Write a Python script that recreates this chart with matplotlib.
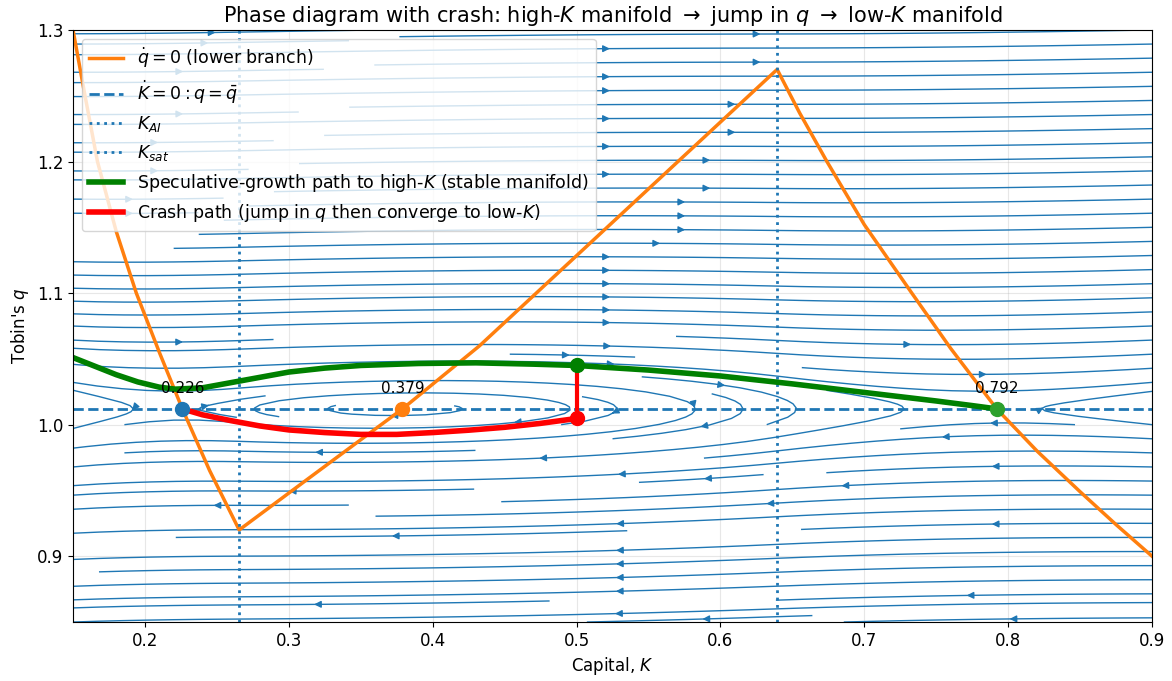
import numpy as np
import matplotlib
matplotlib.use("Agg")
import matplotlib.pyplot as plt

# q-dot = 0 curve (lower branch)
null_K = [0.15, 0.158, 0.167, 0.18, 0.194, 0.21, 0.226, 0.245, 0.2655,
          0.332, 0.379, 0.4326, 0.6394,
          0.655, 0.674, 0.70, 0.733, 0.76, 0.792, 0.82, 0.85, 0.875, 0.9]
null_q = [1.30, 1.252, 1.20, 1.147, 1.10, 1.055, 1.012, 0.965, 0.92,
          0.974, 1.012, 1.060, 1.27,
          1.237, 1.20, 1.152, 1.10, 1.058, 1.012, 0.980, 0.949, 0.924, 0.90]

q_bar = 1.012
K_AI = 0.2655
K_sat = 0.6394

eq_K = [0.226, 0.379, 0.792]
eq_colors = ["C0", "C1", "C2"]

# speculative growth path (stable manifold to high-K)
green_K = [0.15, 0.165, 0.18, 0.195, 0.21, 0.221, 0.24, 0.26, 0.28, 0.30, 0.325, 0.35, 0.39, 0.43,
           0.47, 0.50, 0.55, 0.60, 0.65, 0.70, 0.75, 0.775, 0.792]
green_q = [1.051, 1.0445, 1.038, 1.0325, 1.0285, 1.027, 1.028, 1.032, 1.036, 1.040, 1.043, 1.045, 1.0465,
           1.047, 1.046, 1.045, 1.0415, 1.037, 1.031, 1.0245, 1.018, 1.0145, 1.012]

# crash path (after jump, converge to low-K)
red_K = [0.226, 0.24, 0.26, 0.28, 0.30, 0.325, 0.35, 0.375, 0.40, 0.425, 0.45, 0.475, 0.50]
red_q = [1.012, 1.0075, 1.003, 0.999, 0.996, 0.994, 0.9926, 0.9926, 0.994, 0.9958, 0.998, 1.001, 1.0047]

K_jump = 0.5
q_before = 1.045
q_after = 1.0047

# vector field built from the nullclines
a, c = 1.0, 0.014
Kg = np.linspace(0.15, 0.9, 300)
qg = np.linspace(0.85, 1.3, 300)
KK, QQ = np.meshgrid(Kg, qg)
U = a * (QQ - q_bar)
V = c * (QQ - np.interp(KK, null_K, null_q))

fig, ax = plt.subplots(figsize=(11.72, 6.81), dpi=100)
fig.subplots_adjust(left=0.0623, right=0.983, top=0.956, bottom=0.0866)

ax.streamplot(KK, QQ, U, V, density=1.45, linewidth=1, arrowsize=1, color="C0")

ax.plot(null_K, null_q, color="C1", lw=2.5, label=r"$\dot{q}=0$ (lower branch)")
ax.axhline(q_bar, color="C0", ls="--", lw=2, label=r"$\dot{K}=0: q=\bar{q}$")
ax.axvline(K_AI, color="C0", ls=":", lw=2, label=r"$K_{AI}$")
ax.axvline(K_sat, color="C0", ls=":", lw=2, label=r"$K_{sat}$")

ax.plot(green_K, green_q, color="green", lw=4,
        label=r"Speculative-growth path to high-$K$ (stable manifold)")
ax.plot(red_K, red_q, color="red", lw=4,
        label=r"Crash path (jump in $q$ then converge to low-$K$)")
ax.plot([K_jump, K_jump], [q_after, q_before], color="red", lw=3)
ax.plot(K_jump, q_before, "o", color="green", ms=10)
ax.plot(K_jump, q_after, "o", color="red", ms=10)

for k, col in zip(eq_K, eq_colors):
    ax.plot(k, q_bar, "o", color=col, ms=10, zorder=5)
    ax.annotate(f"{k:.3f}", (k, q_bar), textcoords="offset points", xytext=(0, 9),
                ha="center", va="bottom", fontsize=11)

ax.set_xlim(0.15, 0.9)
ax.set_ylim(0.85, 1.3)
ax.set_xticks([0.2, 0.3, 0.4, 0.5, 0.6, 0.7, 0.8, 0.9])
ax.set_yticks([0.9, 1.0, 1.1, 1.2, 1.3])
ax.tick_params(labelsize=12)
ax.grid(alpha=0.3)
ax.set_xlabel(r"Capital, $K$", fontsize=12)
ax.set_ylabel(r"Tobin's $q$", fontsize=12)
ax.set_title(r"Phase diagram with crash: high-$K$ manifold $\rightarrow$ jump in $q$ $\rightarrow$ low-$K$ manifold",
             fontsize=15)
ax.legend(loc="upper left", fontsize=12.5)

fig.savefig("out.png", dpi=100)
